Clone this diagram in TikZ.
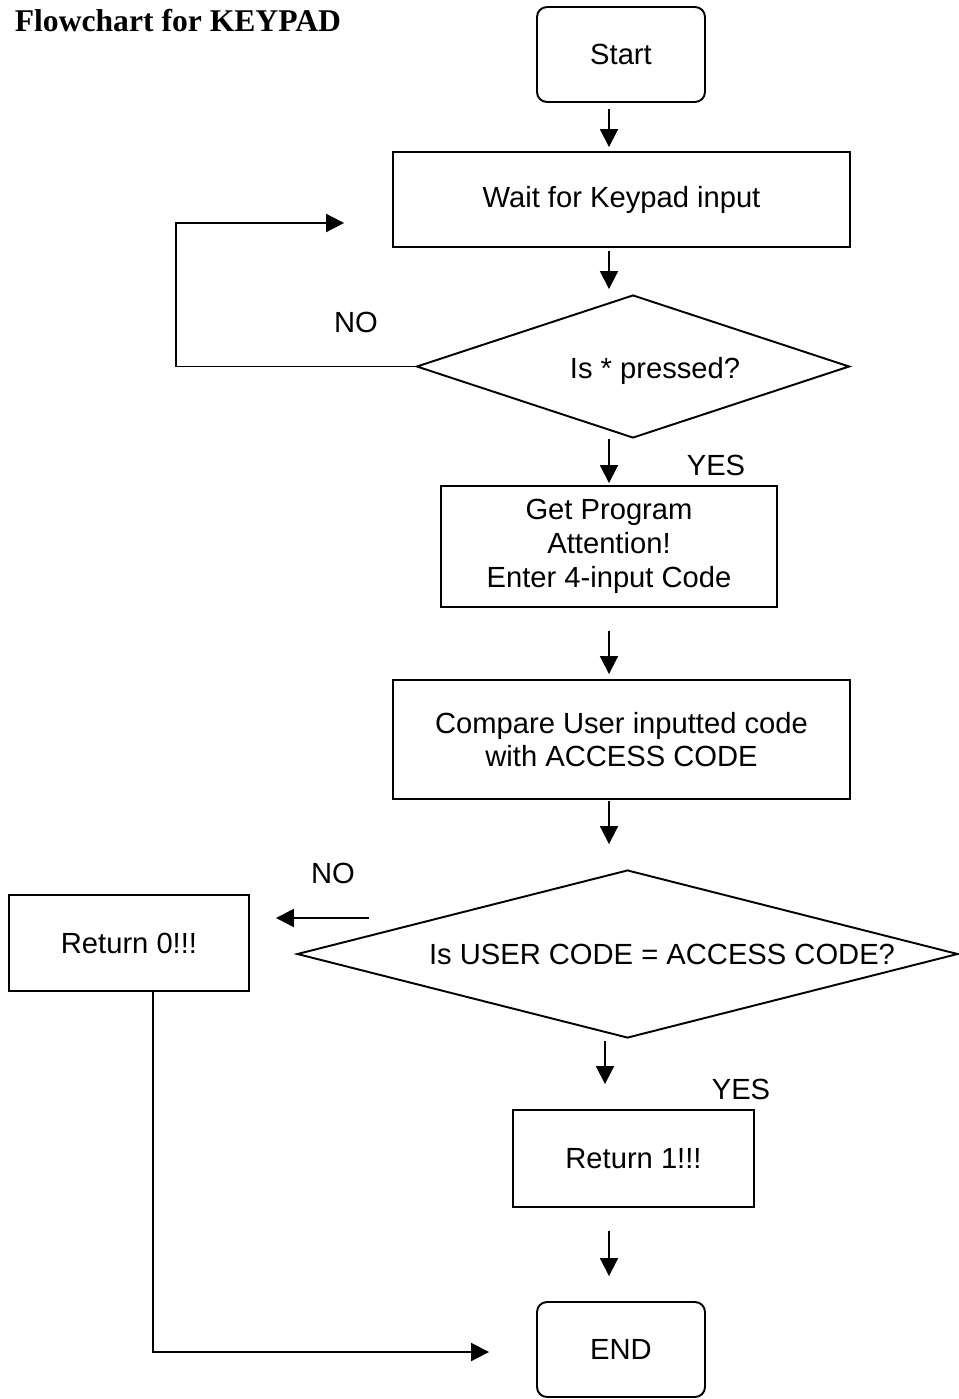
\documentclass[tikz,border=0pt]{standalone}
\usepackage{fontspec}
\setmainfont{Liberation Sans}
\newfontfamily\titlefont{Liberation Serif}
\usetikzlibrary{shapes.geometric,arrows.meta,calc}
\begin{document}
\begin{tikzpicture}[x=0.02cm,y=-0.02cm,line width=1.1pt,
  font=\fontsize{16.6}{19.2}\selectfont,
  box/.style={draw,rectangle,align=center,inner sep=0pt},
  term/.style={draw,rectangle,rounded corners=0.2cm,inner sep=0pt,minimum width=3.36cm,minimum height=1.9cm},
  decision/.style={draw,diamond,inner sep=0pt},
  arr/.style={-{Triangle[length=0.36cm,width=0.36cm]}}]
\useasboundingbox (0,0) rectangle (958,1399);
\node (title) [anchor=west] at (8,21) {\titlefont\bfseries\fontsize{18}{20}\selectfont Flowchart for KEYPAD};
\node (start) [term] at (621,54.5) {Start};
\node (wait) [box,minimum width=9.14cm,minimum height=1.9cm] at (621.5,199.5) {Wait for Keypad input};
\node (q1) [decision,minimum width=8.66cm,minimum height=2.86cm] at (633,366.5) {};
\node (q1text) at (655,371) {Is * pressed?};
\node (getprog) [box,minimum width=6.72cm,minimum height=2.42cm] at (609,546.5) {Get Program\\Attention!\\Enter 4-input Code};
\node (compare) [box,minimum width=9.14cm,minimum height=2.38cm] at (621.5,739.5) {Compare User inputted code\\with ACCESS CODE};
\node (q2) [decision,minimum width=13.22cm,minimum height=3.36cm] at (627.5,954) {};
\node (q2text) at (662,954) {Is USER CODE = ACCESS CODE?};
\node (ret0) [box,minimum width=4.8cm,minimum height=1.92cm] at (129,943) {Return 0!!!};
\node (ret1) [box,minimum width=4.82cm,minimum height=1.94cm] at (633.5,1158.5) {Return 1!!!};
\node (end) [term] at (621,1349.5) {END};
\node (no1) at (356,322) {NO};
\node (yes1) at (716,465) {YES};
\node (no2) at (333,873) {NO};
\node (yes2) at (741,1089) {YES};

\draw[arr] ($(start.south)+(-12,6)$) -- ($(wait.north)+(-12.5,-4)$);
\draw[arr] ($(wait.south)+(-12.5,3)$) -- ($(q1.north)+(-24,-5)$);
\draw[arr] ($(q1.south)+(-24,0)$) -- ($(getprog.north)+(0,-2)$);
\draw[arr] ($(getprog.south)+(0,23)$) -- ($(compare.north)+(-12.5,-5)$);
\draw[arr] ($(compare.south)+(-12.5,1)$) -- ($(q2.north)+(-18.5,-25)$);
\draw[arr] ($(q2.south)+(-22.5,2)$) -- ($(ret1.north)+(-28.5,-25)$);
\draw[arr] ($(ret1.south)+(-24.5,23)$) -- ($(end.north)+(-12,-25)$);

\draw[arr] (q1.west) -- ++(-240,0) |- ($(wait.west)+(-48,23.5)$);
\draw[arr] ($(q2.west)+(73,-36)$) -- ($(ret0.east)+(26,-25)$);
\draw[arr] ($(ret0.south)+(24,0)$) |- ($(end.west)+(-47,2.5)$);
\end{tikzpicture}
\end{document}
